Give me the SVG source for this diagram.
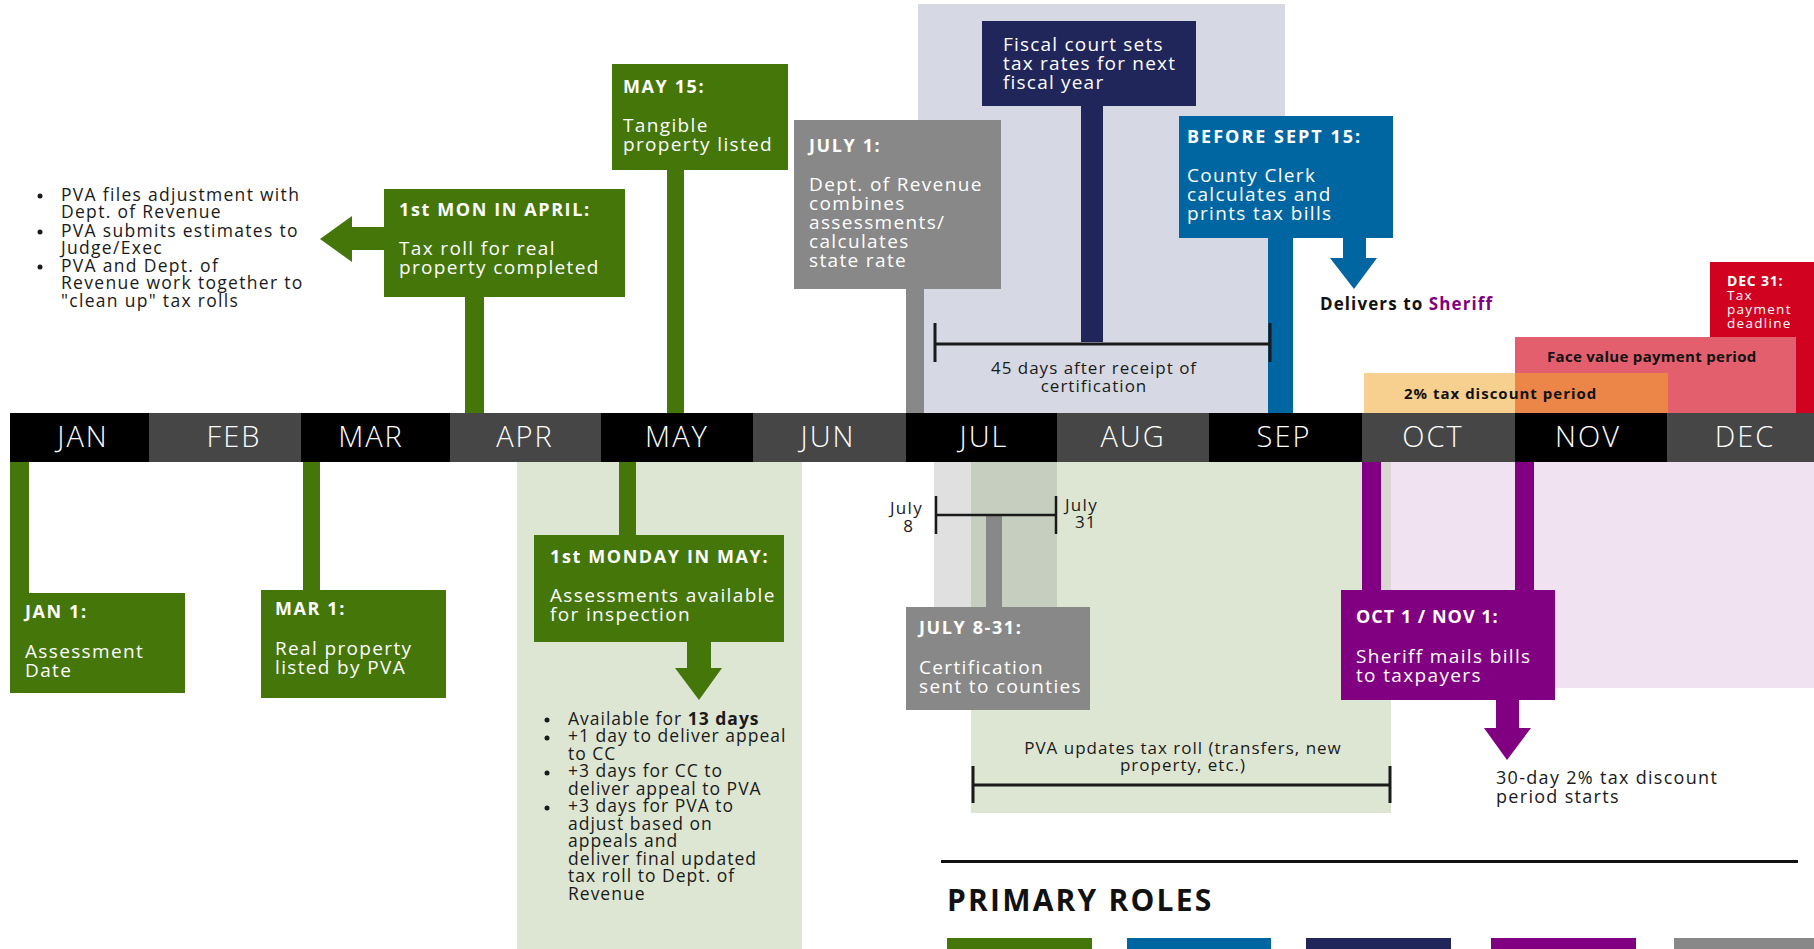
<svg xmlns="http://www.w3.org/2000/svg" width="1814" height="949" viewBox="0 0 1814 949">
<defs>
<style>
text{font-family:"Open Sans","Liberation Sans",sans-serif}
.h{font-weight:700;font-size:18px;fill:#fff;letter-spacing:1.6px}
.b{font-size:19px;fill:#fff;letter-spacing:1.35px}
.m{font-size:29px;font-weight:300;fill:#fff;text-anchor:middle;letter-spacing:2px}
.d{font-size:17.5px;fill:#1a1a1a;letter-spacing:1.3px}
.e{font-size:17.5px;fill:#1a1a1a;letter-spacing:1px}
.k{font-size:17px;fill:#1a1a1a;letter-spacing:1px}
.g{fill:#44760a}
.nv{fill:#21265a}
.bl{fill:#0066a1}
.gr{fill:#888888}
.pu{fill:#810081}
.br{stroke:#1a1a1a;stroke-width:3;fill:none}
</style>
</defs>
<rect width="1814" height="949" fill="#fff"/>

<!-- background bands -->
<g id="bands">
<rect x="918" y="4" width="367" height="409" fill="#d6d9e3"/>
<rect x="517" y="462" width="285" height="487" fill="#dde6d3"/>
<rect x="1381" y="462" width="433" height="226" fill="#f0e2f0"/>
<rect x="971" y="462" width="420" height="351" fill="#dde6d3"/>
<rect x="934" y="462" width="37" height="145" fill="#e0e0e0"/>
<rect x="971" y="462" width="86" height="145" fill="#c6cfbf"/>
<rect x="1381" y="462" width="10" height="226" fill="#d9d6d4"/>
<rect x="1710" y="262" width="104" height="151" fill="#d0021f"/>
<rect x="1515" y="337" width="281" height="76" fill="#e35f6d"/>
<rect x="1364" y="373" width="151" height="40" fill="#f7cf8e"/>
<rect x="1515" y="373" width="153" height="40" fill="#eb8548"/>
</g>

<!-- timeline -->
<g id="timeline">
<rect x="10" y="413" width="139" height="49" fill="#000"/>
<rect x="149" y="413" width="152" height="49" fill="#464646"/>
<rect x="301" y="413" width="149" height="49" fill="#000"/>
<rect x="450" y="413" width="151" height="49" fill="#464646"/>
<rect x="601" y="413" width="152" height="49" fill="#000"/>
<rect x="753" y="413" width="153" height="49" fill="#464646"/>
<rect x="906" y="413" width="151" height="49" fill="#000"/>
<rect x="1057" y="413" width="152" height="49" fill="#464646"/>
<rect x="1209" y="413" width="153" height="49" fill="#000"/>
<rect x="1362" y="413" width="153" height="49" fill="#464646"/>
<rect x="1515" y="413" width="152" height="49" fill="#000"/>
<rect x="1667" y="413" width="147" height="49" fill="#464646"/>
<text class="m" x="83" y="447">JAN</text>
<text class="m" x="234" y="447">FEB</text>
<text class="m" x="371" y="447">MAR</text>
<text class="m" x="525" y="447">APR</text>
<text class="m" x="677" y="447">MAY</text>
<text class="m" x="828" y="447">JUN</text>
<text class="m" x="984" y="447">JUL</text>
<text class="m" x="1133" y="447">AUG</text>
<text class="m" x="1284" y="447">SEP</text>
<text class="m" x="1433" y="447">OCT</text>
<text class="m" x="1588" y="447">NOV</text>
<text class="m" x="1745" y="447">DEC</text>
</g>

<!-- connectors -->
<g id="connectors">
<rect class="g" x="465" y="297" width="19" height="116"/>
<polygon class="g" points="384,227 352,227 352,216 320,239 352,262 352,250 384,250"/>
<rect class="g" x="667" y="170" width="17" height="243"/>
<rect class="gr" x="906" y="289" width="18" height="124"/>
<rect class="nv" x="1081" y="105" width="22" height="237"/>
<rect class="bl" x="1268" y="238" width="25" height="175"/>
<polygon class="bl" points="1343,238 1366,238 1366,258 1377,258 1354,289 1330,258 1343,258"/>
<rect class="g" x="10" y="462" width="19" height="131"/>
<rect class="g" x="303" y="462" width="17" height="128"/>
<rect class="g" x="619" y="462" width="17" height="73"/>
<polygon class="g" points="687,642 711,642 711,668 722,668 699,700 675,668 687,668"/>
<rect class="gr" x="986" y="515" width="16" height="92"/>
<rect class="pu" x="1362" y="462" width="19" height="128"/>
<rect class="pu" x="1515" y="462" width="19" height="128"/>
<polygon class="pu" points="1496,700 1519,700 1519,728 1531,728 1507,760 1484,728 1496,728"/>
<path class="br" d="M935,344H1270M935,323V362M1270,323V362"/>
<path class="br" d="M936,515H1056M936,496V534M1056,496V534" style="stroke-width:2.5"/>
<path class="br" d="M973,785H1390M973,766V803M1390,766V803"/>
</g>

<!-- nodes -->
<g id="node-apr">
<rect class="g" x="384" y="189" width="241" height="108"/>
<text class="h" x="399" y="216">1st MON IN APRIL:</text>
<text class="b" x="399" y="255">Tax roll for real</text>
<text class="b" x="399" y="274">property completed</text>
</g>
<g id="node-apr-notes">
<circle cx="40" cy="196" r="2.5" fill="#1a1a1a"/>
<circle cx="40" cy="232" r="2.5" fill="#1a1a1a"/>
<circle cx="40" cy="267" r="2.5" fill="#1a1a1a"/>
<text class="d" x="61" y="201">PVA files adjustment with</text>
<text class="d" x="61" y="218">Dept. of Revenue</text>
<text class="d" x="61" y="237">PVA submits estimates to</text>
<text class="d" x="61" y="254">Judge/Exec</text>
<text class="d" x="61" y="272">PVA and Dept. of</text>
<text class="d" x="61" y="289">Revenue work together to</text>
<text class="d" x="61" y="307">"clean up" tax rolls</text>
</g>
<g id="node-may15">
<rect class="g" x="612" y="64" width="176" height="106"/>
<text class="h" x="623" y="93">MAY 15:</text>
<text class="b" x="623" y="132">Tangible</text>
<text class="b" x="623" y="151">property listed</text>
</g>
<g id="node-july1">
<rect class="gr" x="794" y="120" width="207" height="169"/>
<text class="h" x="809" y="152">JULY 1:</text>
<text class="b" x="809" y="191">Dept. of Revenue</text>
<text class="b" x="809" y="210">combines</text>
<text class="b" x="809" y="229">assessments/</text>
<text class="b" x="809" y="248">calculates</text>
<text class="b" x="809" y="267">state rate</text>
</g>
<g id="node-fiscal">
<rect class="nv" x="982" y="21" width="214" height="85"/>
<text class="b" x="1003" y="51" style="letter-spacing:1.2px">Fiscal court sets</text>
<text class="b" x="1003" y="70" style="letter-spacing:1.2px">tax rates for next</text>
<text class="b" x="1003" y="89" style="letter-spacing:1.2px">fiscal year</text>
</g>
<g id="node-sept15">
<rect class="bl" x="1179" y="116" width="214" height="122"/>
<text class="h" x="1187" y="143" style="letter-spacing:2px">BEFORE SEPT 15:</text>
<text class="b" x="1187" y="182">County Clerk</text>
<text class="b" x="1187" y="201">calculates and</text>
<text class="b" x="1187" y="220">prints tax bills</text>
</g>
<g id="node-delivers">
<text x="1320" y="310" style="font-weight:700;font-size:17px;fill:#111;letter-spacing:1.1px">Delivers to <tspan fill="#810081">Sheriff</tspan></text>
</g>
<g id="node-dec31">
<text x="1727" y="286" style="font-weight:700;font-size:14px;fill:#fff;letter-spacing:0.8px">DEC 31:</text>
<text x="1727" y="300" style="font-size:13.5px;fill:#fff;letter-spacing:1.3px">Tax</text>
<text x="1727" y="314" style="font-size:13.5px;fill:#fff;letter-spacing:1.3px">payment</text>
<text x="1727" y="328" style="font-size:13.5px;fill:#fff;letter-spacing:1.3px">deadline</text>
</g>
<g id="node-facevalue">
<text x="1547" y="362" style="font-weight:700;font-size:15px;fill:#111;letter-spacing:0.3px">Face value payment period</text>
</g>
<g id="node-discount">
<text x="1404" y="399" style="font-weight:700;font-size:15px;fill:#111;letter-spacing:1px">2% tax discount period</text>
</g>
<g id="node-45days">
<text class="k" x="1094" y="374" text-anchor="middle">45 days after receipt of</text>
<text class="k" x="1094" y="392" text-anchor="middle">certification</text>
</g>
<g id="node-jan1">
<rect class="g" x="10" y="593" width="175" height="100"/>
<text class="h" x="25" y="618">JAN 1:</text>
<text class="b" x="25" y="658">Assessment</text>
<text class="b" x="25" y="677">Date</text>
</g>
<g id="node-mar1">
<rect class="g" x="261" y="590" width="185" height="108"/>
<text class="h" x="275" y="615">MAR 1:</text>
<text class="b" x="275" y="655">Real property</text>
<text class="b" x="275" y="674">listed by PVA</text>
</g>
<g id="node-may1">
<rect class="g" x="534" y="535" width="250" height="107"/>
<text class="h" x="550" y="563">1st MONDAY IN MAY:</text>
<text class="b" x="550" y="602">Assessments available</text>
<text class="b" x="550" y="621">for inspection</text>
</g>
<g id="node-may-notes">
<circle cx="547" cy="720" r="2.5" fill="#1a1a1a"/>
<circle cx="547" cy="738" r="2.5" fill="#1a1a1a"/>
<circle cx="547" cy="773" r="2.5" fill="#1a1a1a"/>
<circle cx="547" cy="808" r="2.5" fill="#1a1a1a"/>
<text class="e" x="568" y="725">Available for <tspan font-weight="700">13 days</tspan></text>
<text class="e" x="568" y="742">+1 day to deliver appeal</text>
<text class="e" x="568" y="760">to CC</text>
<text class="e" x="568" y="777">+3 days for CC to</text>
<text class="e" x="568" y="795">deliver appeal to PVA</text>
<text class="e" x="568" y="812">+3 days for PVA to</text>
<text class="e" x="568" y="830">adjust based on</text>
<text class="e" x="568" y="847">appeals  and</text>
<text class="e" x="568" y="865">deliver final updated</text>
<text class="e" x="568" y="882">tax roll to Dept. of</text>
<text class="e" x="568" y="900">Revenue</text>
</g>
<g id="node-july-labels">
<text x="923" y="514" text-anchor="end" style="font-size:17px;fill:#1a1a1a;letter-spacing:1.3px">July</text>
<text x="913" y="532" text-anchor="end" style="font-size:17px;fill:#1a1a1a">8</text>
<text x="1065" y="511" style="font-size:17px;fill:#1a1a1a;letter-spacing:1.3px">July</text>
<text x="1075" y="528" style="font-size:17px;fill:#1a1a1a;letter-spacing:1px">31</text>
</g>
<g id="node-july831">
<rect class="gr" x="906" y="607" width="184" height="103"/>
<text class="h" x="919" y="634">JULY 8-31:</text>
<text class="b" x="919" y="674">Certification</text>
<text class="b" x="919" y="693">sent to counties</text>
</g>
<g id="node-pva-updates">
<text class="k" x="1183" y="754" text-anchor="middle">PVA updates tax roll (transfers, new</text>
<text class="k" x="1183" y="771" text-anchor="middle">property, etc.)</text>
</g>
<g id="node-oct1">
<rect class="pu" x="1341" y="590" width="214" height="110"/>
<text class="h" x="1356" y="623" style="letter-spacing:1px">OCT 1 / NOV 1:</text>
<text class="b" x="1356" y="663">Sheriff mails bills</text>
<text class="b" x="1356" y="682">to taxpayers</text>
</g>
<g id="node-30day">
<text x="1496" y="784" style="font-size:18px;fill:#1a1a1a;letter-spacing:1.3px">30-day 2% tax discount</text>
<text x="1496" y="803" style="font-size:18px;fill:#1a1a1a;letter-spacing:1.3px">period starts</text>
</g>
<g id="legend">
<rect x="941" y="860" width="857" height="3" fill="#111"/>
<text x="947" y="911" style="font-weight:700;font-size:30px;fill:#111;letter-spacing:2.2px">PRIMARY ROLES</text>
<rect class="g" x="947" y="938" width="145" height="11"/>
<rect class="bl" x="1127" y="938" width="144" height="11"/>
<rect class="nv" x="1306" y="938" width="145" height="11"/>
<rect class="pu" x="1491" y="938" width="145" height="11"/>
<rect class="gr" x="1674" y="938" width="140" height="11"/>
</g>
</svg>
